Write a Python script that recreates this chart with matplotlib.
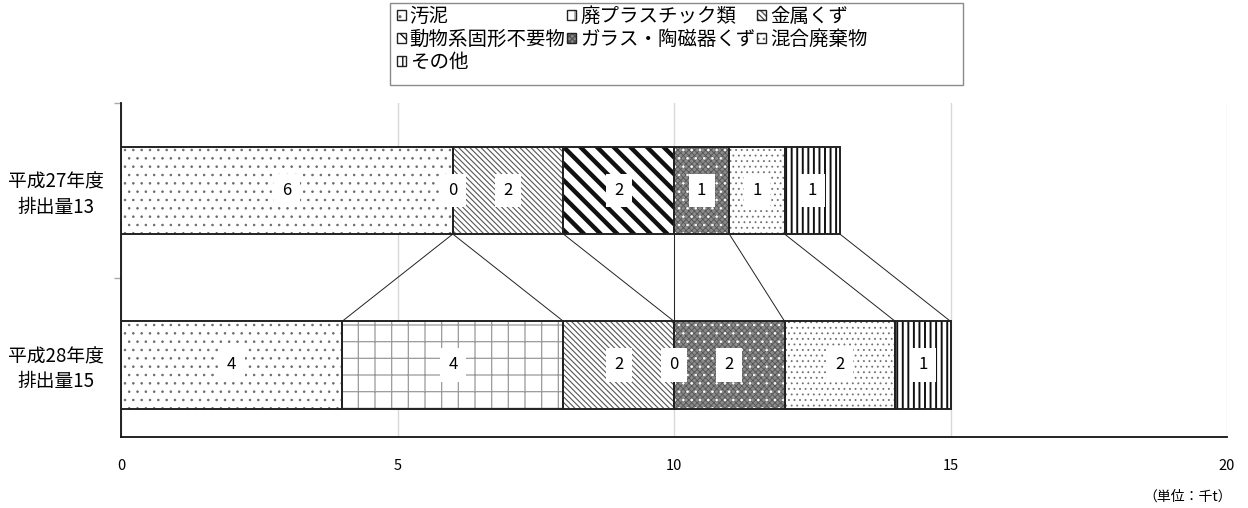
import matplotlib
matplotlib.use('Agg')
import matplotlib.pyplot as plt
from matplotlib.patches import Patch, Rectangle
from matplotlib.legend_handler import HandlerTuple
import numpy as np

plt.rcParams['font.family'] = ['Noto Sans CJK JP', 'DejaVu Sans']

# ---- data ----
year_labels = ['平成27年度\n排出量13', '平成28年度\n排出量15']
categories = ['汚泥', '廃プラスチック類', '金属くず', '動物系固形不要物',
              'ガラス・陶磁器くず', '混合廃棄物', 'その他']
sludge = [6, 4]
plastics = [0, 4]
metal = [2, 2]
animal = [2, 0]
glass = [1, 2]
mixed = [1, 2]
other = [1, 1]
series = [sludge, plastics, metal, animal, glass, mixed, other]
x_ticks = [0, 5, 10, 15, 20]
unit_label = '（単位：千t）'

# ---- styles: (facecolor, hatch, hatchcolor, hatch linewidth, overlay hatch, overlay color)
styles = [
    ('white', '..', '#6a6a6a', 0.6, None, None),
    ('white', '+', '#9a9a9a', 0.9, None, None),
    ('white', '\\\\\\\\\\\\', '#555555', 0.8, None, None),
    ('white', '\\\\', '#111111', 3.2, None, None),
    ('#8a8a8a', 'xxxxxx', '#555555', 0.6, '..', 'white'),
    ('white', '...', '#707070', 0.6, None, None),
    ('white', '|||', '#111111', 1.4, None, None),
]

W, H = 1248, 508
fig = plt.figure(figsize=(W / 100, H / 100), dpi=100)
ax = fig.add_axes([121 / W, 1 - 437 / H, (1227 - 121) / W, (437 - 103) / H])

y = np.arange(len(year_labels))
bar_h = 0.5
left = np.zeros(len(year_labels))
cum_ends = []
legend_handles = []

def set_hlw(p, lw):
    if hasattr(p, 'set_hatch_linewidth'):
        p.set_hatch_linewidth(lw)

for vals, (fc, hatch, hc, hlw, ohatch, ocol) in zip(series, styles):
    vals = np.array(vals, dtype=float)
    bars = ax.barh(y, vals, left=left, height=bar_h, color=fc, hatch=hatch,
                   edgecolor=hc, linewidth=0, zorder=2)
    for p in bars:
        set_hlw(p, hlw)
    if ohatch:
        obars = ax.barh(y, vals, left=left, height=bar_h, fill=False,
                        hatch=ohatch, edgecolor=ocol, linewidth=0, zorder=2.1)
        for p in obars:
            set_hlw(p, 0.6)
    ax.barh(y, vals, left=left, height=bar_h, fill=False,
            edgecolor='#222222', linewidth=1.4, zorder=3)
    for yi, (l, v) in enumerate(zip(left, vals)):
        ax.text(l + v / 2, yi, f'{int(round(v))}', ha='center', va='center',
                fontsize=12, zorder=5,
                bbox=dict(boxstyle='square,pad=0.5', facecolor='white',
                          edgecolor='none'))
    # legend handle
    h1 = Patch(facecolor=fc, hatch=hatch, edgecolor=hc, linewidth=0)
    set_hlw(h1, min(hlw, 0.8))
    h2 = Patch(fill=False, edgecolor='#222222', linewidth=1.0)
    legend_handles.append((h1, h2))
    left = left + vals
    cum_ends.append(left.copy())

# series lines between bars
for c in cum_ends:
    ax.plot([c[0], c[1]], [0 + bar_h / 2, 1 - bar_h / 2], color='#222222',
            linewidth=0.7, zorder=1.5)

ax.set_xlim(0, 20)
ax.set_ylim(1.413, -0.501)
ax.set_xticks(x_ticks)
ax.set_xticklabels([str(t) for t in x_ticks], fontsize=10.5)
ax.set_yticks(y)
ax.set_yticklabels(year_labels, fontsize=13.5, linespacing=1.25)
for lab in ax.get_yticklabels():
    lab.set_multialignment('center')
ax.set_yticks([-0.5, 0.5], minor=True)
ax.tick_params(axis='y', which='major', length=0, pad=12)
ax.tick_params(axis='y', which='minor', length=5, color='#aaaaaa', width=1)
ax.tick_params(axis='x', length=0, pad=16)

ax.xaxis.grid(True, color='#d9d9d9', linewidth=1)
ax.set_axisbelow(True)
for s in ['top', 'right']:
    ax.spines[s].set_visible(False)
ax.spines['left'].set_color('#111111')
ax.spines['bottom'].set_color('#111111')
ax.spines['left'].set_linewidth(1.3)
ax.spines['bottom'].set_linewidth(1.3)

# legend frame (drawn separately to match the reference box size)
fig.patches.append(Rectangle((390 / W, 1 - 85 / H), (963 - 390) / W, 82 / H,
                             transform=fig.transFigure, fill=False,
                             edgecolor='#8a8a8a', linewidth=1.0))

# legend: column-major order to match reference layout
order = [0, 3, 6, 1, 4, 2, 5]
leg = fig.legend([legend_handles[i] for i in order],
                 [categories[i] for i in order],
                 handler_map={tuple: HandlerTuple(ndivide=1, pad=0)},
                 ncol=3, loc='upper left', bbox_to_anchor=(393 / W, 1 - 2 / H),
                 frameon=False, fontsize=14,
                 handlelength=0.45, handleheight=0.45,
                 handletextpad=0.2, columnspacing=0.1, labelspacing=0.1,
                 borderpad=0.2, borderaxespad=0)

fig.text(1232 / W, 1 - 497 / H, unit_label, ha='right', va='center',
         fontsize=10)

fig.savefig('out.png', dpi=100)
